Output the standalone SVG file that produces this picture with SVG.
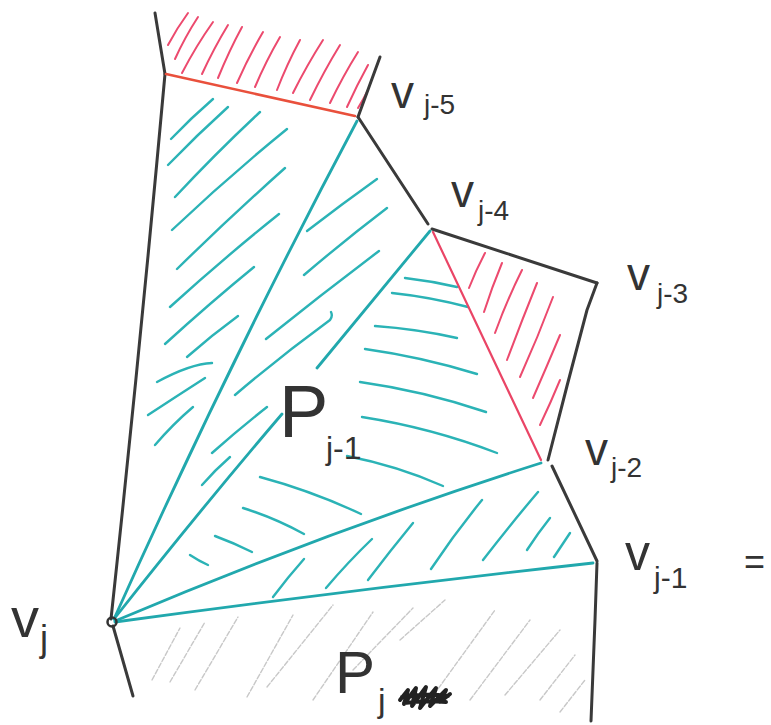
<svg xmlns="http://www.w3.org/2000/svg" width="771" height="725" viewBox="0 0 771 725">
<style>
.blk{stroke:#3a3a3a;stroke-width:3;fill:none;stroke-linecap:round;stroke-linejoin:round}
.teal{stroke:#21a8ad;stroke-width:2.8;fill:none;stroke-linecap:round}
.th{stroke:#2bb3b6;stroke-width:2.4;fill:none;stroke-linecap:round}
.rh{stroke:#ec4a6e;stroke-width:2;fill:none;stroke-linecap:round}
.gh{stroke:#c8c8c8;stroke-width:1.4;fill:none;stroke-linecap:round;stroke-dasharray:5 2}
.lbl{font-family:"Liberation Sans",Arial,sans-serif;fill:#333}
</style>
<rect width="771" height="725" fill="#ffffff"/>

<g id="hatching">
  <g id="red-hatch-top">
    <path class="rh" d="M168,45 Q177,28 188,13"/>
    <path class="rh" d="M175,59 Q185,37 198,17"/>
    <path class="rh" d="M182,73 Q196,46 213,22"/>
    <path class="rh" d="M202,74 Q214,48 228,25"/>
    <path class="rh" d="M218,78 Q229,51 242,27"/>
    <path class="rh" d="M237,83 Q249,56 263,32"/>
    <path class="rh" d="M255,87 Q266,61 280,37"/>
    <path class="rh" d="M277,90 Q287,64 300,40"/>
    <path class="rh" d="M293,93 Q307,65 323,40"/>
    <path class="rh" d="M310,100 Q324,71 340,45"/>
    <path class="rh" d="M330,103 Q343,76 358,52"/>
    <path class="rh" d="M347,107 Q357,85 368,65"/>
    <path class="rh" d="M358,108 Q363,100 367,92"/>
  </g>
  <g id="red-hatch-right">
    <path class="rh" d="M469,288 Q476,270 485,253"/>
    <path class="rh" d="M484,312 Q492,287 502,263"/>
    <path class="rh" d="M495,333 Q507,300 522,270"/>
    <path class="rh" d="M507,360 Q522,320 537,283"/>
    <path class="rh" d="M520,377 Q538,337 553,297"/>
    <path class="rh" d="M533,398 Q547,366 560,335"/>
    <path class="rh" d="M540,425 Q551,402 560,380"/>
  </g>
  <g id="teal-hatch-left">
    <path class="th" d="M171,139 Q191,118 213,99"/>
    <path class="th" d="M168,165 Q197,135 228,107"/>
    <path class="th" d="M175,197 Q216,153 260,112"/>
    <path class="th" d="M172,230 Q228,177 287,129"/>
    <path class="th" d="M177,269 Q230,217 285,168"/>
    <path class="th" d="M170,307 Q224,258 279,214"/>
    <path class="th" d="M165,344 Q210,303 254,267"/>
    <path class="th" d="M187,357 Q212,335 238,316"/>
    <path class="th" d="M157,382 Q190,364 212,363"/>
    <path class="th" d="M148,415 Q177,396 205,378"/>
    <path class="th" d="M155,445 Q173,424 193,407"/>
  </g>
  <g id="teal-hatch-mid">
    <path class="th" d="M307,231 Q342,204 377,179"/>
    <path class="th" d="M304,275 Q345,240 387,208"/>
    <path class="th" d="M266,339 Q322,294 379,251"/>
    <path class="th" d="M235,395 Q282,355 330,320 Q333,316 331,312"/>
    <path class="th" d="M212,453 Q239,429 267,407"/>
    <path class="th" d="M202,485 Q215,470 230,457"/>
  </g>
  <g id="teal-hatch-right">
    <path class="th" d="M405,278 Q431,281 457,287"/>
    <path class="th" d="M392,293 Q430,297 468,307"/>
    <path class="th" d="M375,326 Q417,329 457,338"/>
    <path class="th" d="M365,349 Q422,357 477,374"/>
    <path class="th" d="M360,382 Q424,391 486,412"/>
    <path class="th" d="M362,417 Q432,428 497,453"/>
    <path class="th" d="M347,456 Q398,466 443,486"/>
    <path class="th" d="M260,477 Q312,491 361,514"/>
    <path class="th" d="M243,508 Q275,518 304,534"/>
    <path class="th" d="M215,536 Q234,543 252,552"/>
    <path class="th" d="M190,555 Q199,561 208,565"/>
  </g>
  <g id="teal-hatch-bottom">
    <path class="th" d="M273,597 Q288,577 304,559"/>
    <path class="th" d="M326,588 Q348,562 372,539"/>
    <path class="th" d="M368,580 Q390,551 413,523"/>
    <path class="th" d="M431,569 Q455,533 482,500"/>
    <path class="th" d="M483,560 Q510,525 538,492"/>
    <path class="th" d="M527,550 Q538,533 550,518"/>
    <path class="th" d="M554,557 Q562,545 570,533"/>
  </g>
  <g id="gray-hatch">
    <path class="gh" d="M152,680 L180,628"/>
    <path class="gh" d="M170,682 L205,622"/>
    <path class="gh" d="M195,690 L238,617"/>
    <path class="gh" d="M247,697 L293,615"/>
    <path class="gh" d="M267,687 L333,605"/>
    <path class="gh" d="M313,700 L373,612"/>
    <path class="gh" d="M353,670 L413,608"/>
    <path class="gh" d="M400,640 L445,600"/>
    <path class="gh" d="M430,700 L495,610"/>
    <path class="gh" d="M470,700 L530,620"/>
    <path class="gh" d="M505,695 L560,630"/>
    <path class="gh" d="M540,700 L575,655"/>
    <path class="gh" d="M560,712 L585,680"/>
  </g>
</g>

<g id="connectors">
  <path class="blk" d="M155,13 L165,74"/>
  <path class="blk" d="M165,74 Q140,350 111,619"/>
  <path class="blk" d="M358,117 L380,57"/>
  <path class="blk" d="M358,117 L428,224"/>
  <path class="blk" d="M432,229 L597,283"/>
  <path class="blk" d="M597,283 L587,310 Q567,385 548,460"/>
  <path class="blk" d="M552,466 L597,561"/>
  <path class="blk" d="M597,563 L595,620 L591,721"/>
  <path class="blk" d="M113,626 L133,696"/>
  <path d="M166,74 L355,116" stroke="#e9503c" stroke-width="2.6" fill="none" stroke-linecap="round"/>
  <path d="M433,232 L541,460" stroke="#ea4566" stroke-width="2.2" fill="none" stroke-linecap="round"/>
  <path class="teal" d="M114,619 Q230,360 357,121"/>
  <path class="teal" d="M114,619 Q200,510 282,414"/>
  <path class="teal" d="M317,368 L430,231"/>
  <path class="teal" d="M115,621 Q330,530 541,463" stroke="#1e9ea3"/>
  <path class="teal" d="M115,622 Q350,590 593,563"/>
  <circle cx="112" cy="622" r="4.5" fill="none" stroke="#333" stroke-width="2.5"/>
</g>

<g id="v_j5"><text class="lbl" x="391" y="108" font-size="46">v</text><text class="lbl" x="424" y="114" font-size="28">j-5</text></g>
<g id="v_j4"><text class="lbl" x="451" y="207" font-size="46">v</text><text class="lbl" x="478" y="220" font-size="28">j-4</text></g>
<g id="v_j3"><text class="lbl" x="627" y="290" font-size="46">v</text><text class="lbl" x="657" y="303" font-size="28">j-3</text></g>
<g id="v_j2"><text class="lbl" x="585" y="465" font-size="46">v</text><text class="lbl" x="611" y="477" font-size="28">j-2</text></g>
<g id="v_j1"><text class="lbl" x="625" y="570" font-size="50">v</text><text class="lbl" x="654" y="588" font-size="30">j-1</text><text class="lbl" x="744" y="574" font-size="36">=</text></g>
<g id="v_j"><text class="lbl" x="11" y="637" font-size="56">v</text><text class="lbl" x="40" y="651" font-size="36">j</text></g>
<g id="P_j1"><text class="lbl" x="279" y="437" font-size="74">P</text><text class="lbl" x="326" y="459" font-size="32">j-1</text></g>
<g id="P_j"><text class="lbl" x="335" y="693" font-size="60">P</text><text class="lbl" x="378" y="712" font-size="34">j</text>
  <path d="M400,700 L408,690 L404,704 L416,688 L412,706 L426,687 L420,708 L436,688 L430,706 L446,690 L440,702 L450,694 M402,697 Q425,693 448,696 M404,703 Q425,700 446,702" stroke="#222" stroke-width="4" fill="none" stroke-linejoin="round" stroke-linecap="round"/>
</g>
</svg>
